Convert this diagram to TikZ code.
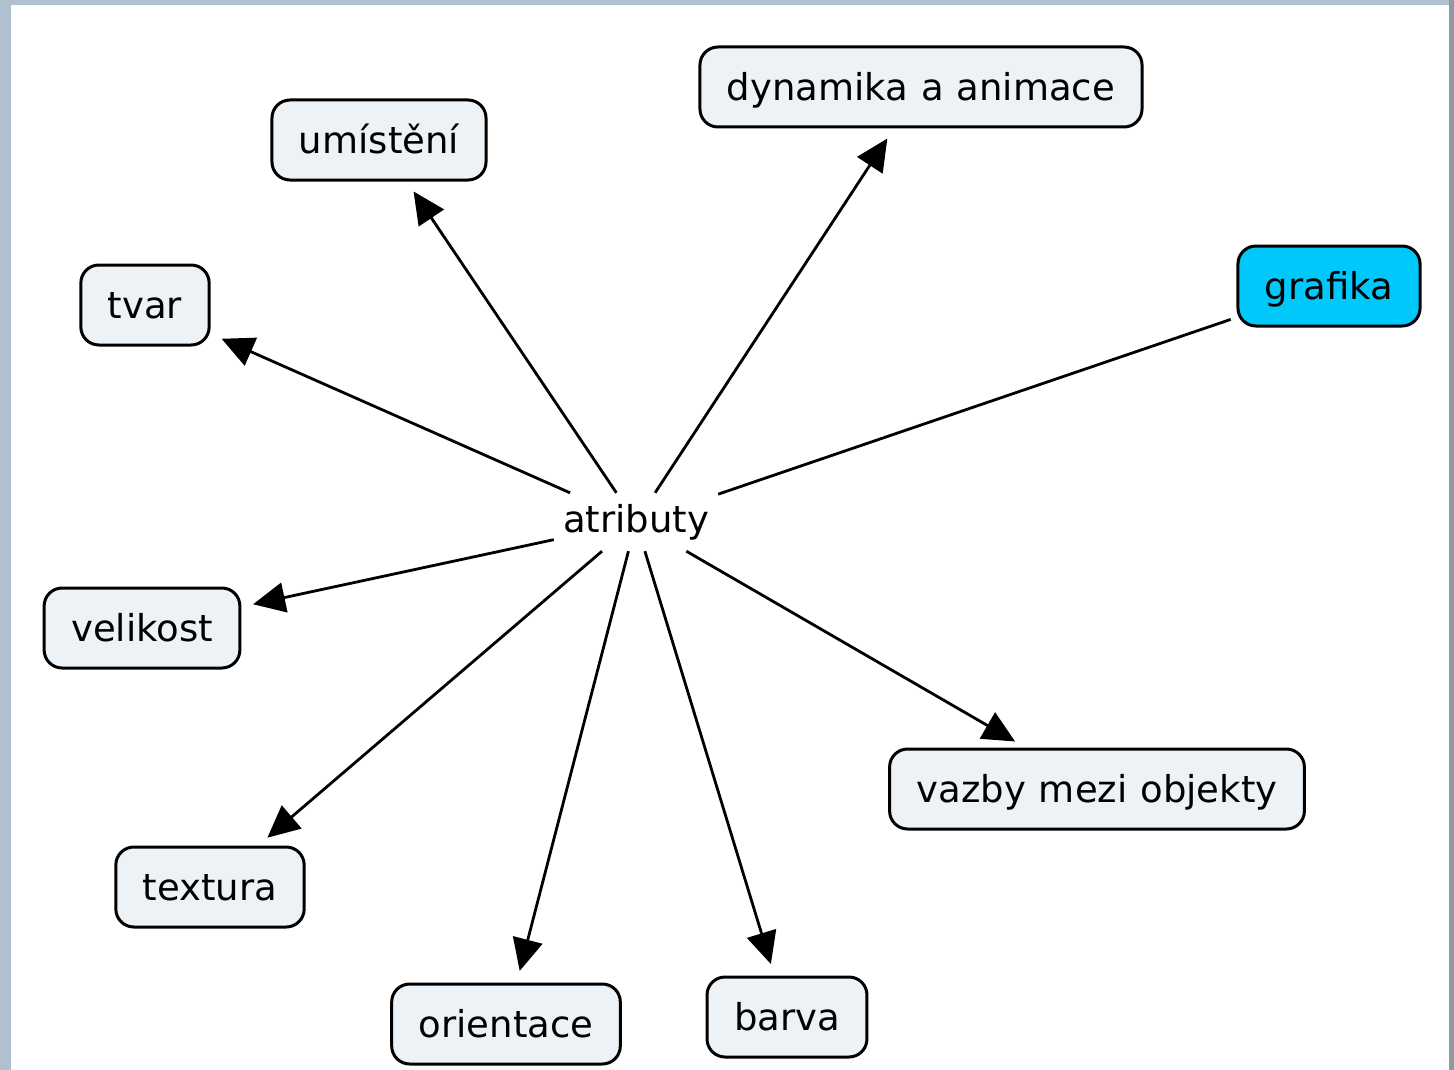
\documentclass[tikz,border=0pt]{standalone}
\usepackage{fontspec}
\setmainfont{DejaVu Sans}
\usetikzlibrary{arrows.meta}
\definecolor{framec}{RGB}{176,192,206}
\definecolor{framedark}{RGB}{142,154,163}
\definecolor{boxfill}{RGB}{236,242,245}
\definecolor{cyanfill}{RGB}{0,200,250}
\begin{document}
\begin{tikzpicture}[x=1pt,y=-1pt,
  lbl/.style={font=\fontsize{37}{44}\selectfont},
  concept/.style={lbl, draw=black, line width=3pt, rounded corners=18pt, fill=boxfill,
    inner xsep=27pt, inner ysep=0pt, minimum height=80pt, text height=31pt, text depth=4pt},
  hub/.style={lbl, inner sep=0pt, minimum width=164pt, minimum height=58pt},
  conn/.style={line width=2.8pt, -{Triangle[length=32pt,width=30pt]}, shorten >=12pt},
  plain/.style={line width=2.8pt}]
\useasboundingbox (0,0) rectangle (1454,1070);
\fill[framec] (0,0) rectangle (1454,1070);
\fill[framedark] (1449,0) rectangle (1454,1070);
\fill[white] (11,5) rectangle (1449,1070);

\node[hub] (atr) at (636,522) {atributy};
\node[concept] (umi) at (379,140) {umístění};
\node[concept] (dyn) at (921,87) {dynamika\hspace{0.35em}a\hspace{0.35em}animace};
\node[concept] (tvar) at (145,305) {tvar};
\node[concept, fill=cyanfill] (graf) at (1329,286) {grafika};
\node[concept] (vel) at (142,628) {velikost};
\node[concept] (vaz) at (1097,789) {vazby\hspace{0.35em}mezi\hspace{0.35em}objekty};
\node[concept] (tex) at (210,887) {textura};
\node[concept] (ori) at (506,1024) {orientace};
\node[concept] (bar) at (787,1017) {barva};

\draw[plain, shorten <=6pt] (graf) -- (atr);
\draw[conn] (atr) -- (umi);
\draw[conn] (atr) -- (dyn);
\draw[conn] (atr) -- (tvar);
\draw[conn] (atr) -- (vel);
\draw[conn] (atr) -- (tex);
\draw[conn] (atr) -- (ori);
\draw[conn] (atr) -- (bar);
\draw[conn] (atr) -- (vaz);
\end{tikzpicture}
\end{document}
